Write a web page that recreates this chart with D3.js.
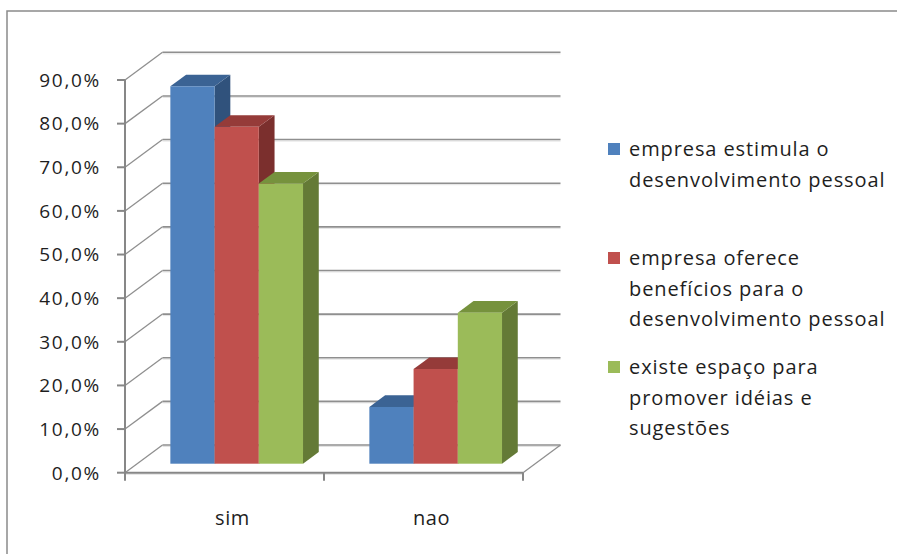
<!DOCTYPE html>
<html>
<head>
<meta charset="utf-8">
<script src="https://cdn.jsdelivr.net/npm/d3@7"></script>
<style>
  body { margin: 0; background: #fff; }
  svg text { font-family: "Open Sans", sans-serif; fill: #1e1e1e; }
</style>
</head>
<body>
<div id="chart"></div>
<script>
// chart data
var categories = ["sim", "nao"]
var seriesNames = [
    ["empresa estimula o", "desenvolvimento pessoal"],
    ["empresa oferece", "benefícios para o", "desenvolvimento pessoal"],
    ["existe espaço para", "promover idéias e", "sugestões"]
]
var estimula = [0.865, 0.130]
var oferece = [0.772, 0.217]
var espaco = [0.642, 0.346]
var yTicks = [0, 0.1, 0.2, 0.3, 0.4, 0.5, 0.6, 0.7, 0.8, 0.9]
var yTickLabels = ["0,0%", "10,0%", "20,0%", "30,0%", "40,0%", "50,0%", "60,0%", "70,0%", "80,0%", "90,0%"]

var series = [estimula, oferece, espaco]
var colors = [
    {front: "#4f81bd", top: "#3b6394", side: "#30527c"},
    {front: "#c0504d", top: "#953b39", side: "#7b2f2d"},
    {front: "#9bbb59", top: "#76923d", side: "#647a36"}
]

var width = 897, height = 554
var svg = d3.select("#chart").append("svg").attr("width", width).attr("height", height)

// outer frame (only top and left edges show)
svg.append("rect").attr("x", 7).attr("y", 11).attr("width", 1000).attr("height", 1000)
    .style("fill", "none").style("stroke", "#8a8a8a").style("stroke-width", 1.5)

// 3d oblique depth
var DX = 37.5, DY = 27.7
var f0 = 0.325, f1 = 0.745
function proj(x, y, f) { return [x + f * DX, y - f * DY] }

var x = d3.scaleBand().domain(categories).range([125, 523]).padding(0)
var xs = d3.scaleBand().domain(d3.range(series.length)).range([0, x.bandwidth()]).paddingInner(0).paddingOuter(0.75)
var y = d3.scaleLinear().domain([0, 0.9]).range([472.7, 80])

var grid = svg.append("g")
var line = d3.line()
var gridColor = "#8f8f8f"

// back wall gridlines + side wall connectors
yTicks.forEach(function(t) {
    var a = proj(x.range()[0], y(t), 0), b = proj(x.range()[0], y(t), 1), c = proj(x.range()[1], y(t), 1)
    grid.append("path").attr("d", line([b, c])).style("stroke", "#e3e3e3").style("stroke-width", 1)
        .attr("transform", "translate(0,1.5)")
    grid.append("path").attr("d", line([b, c])).style("stroke", gridColor).style("stroke-width", 1.6).style("fill", "none")
    grid.append("path").attr("d", line([a, b])).style("stroke", gridColor).style("stroke-width", 1.3).style("fill", "none")
})
// floor edges
var fr0 = proj(x.range()[1], y(0), 0), fr1 = proj(x.range()[1], y(0), 1)
grid.append("path").attr("d", line([fr0, fr1])).style("stroke", gridColor).style("stroke-width", 1.3)
grid.append("path").attr("d", line([[x.range()[0], y(0) + 1.5], [x.range()[1], y(0) + 1.5]])).style("stroke", "#dcdcdc").style("stroke-width", 1)

// bars
categories.forEach(function(cat, ci) {
    series.forEach(function(vals, si) {
        var x0 = x(cat) + xs(si), x1 = x0 + xs.bandwidth()
        var yv = y(vals[ci]), yb = y(0)
        var g = svg.append("g")
        var fa = proj(x0, yv, f0), fb = proj(x1, yb, f0)
        g.append("path")
            .attr("d", line([proj(x1, yv, f0), proj(x1, yv, f1), proj(x1, yb, f1), proj(x1, yb, f0)]) + "Z")
            .style("fill", colors[si].side)
        g.append("path")
            .attr("d", line([proj(x0, yv, f0), proj(x1, yv, f0), proj(x1, yv, f1), proj(x0, yv, f1)]) + "Z")
            .style("fill", colors[si].top)
        g.append("rect").attr("x", fa[0]).attr("y", fa[1])
            .attr("width", fb[0] - fa[0]).attr("height", fb[1] - fa[1])
            .style("fill", colors[si].front)
    })
})

// front axes
var axisColor = "#878787"
svg.append("path").attr("d", line([[x.range()[0], y(0.9)], [x.range()[0], y(0)]]))
    .style("stroke", axisColor).style("stroke-width", 2)
svg.append("path").attr("d", line([[x.range()[0], y(0)], [x.range()[1], y(0)]]))
    .style("stroke", axisColor).style("stroke-width", 2)
yTicks.forEach(function(t, i) {
    svg.append("path").attr("d", line([[117, y(t)], [x.range()[0], y(t)]]))
        .style("stroke", axisColor).style("stroke-width", 2)
    svg.append("text").attr("x", 101).attr("y", y(t)).attr("dy", "0.36em")
        .attr("text-anchor", "end").style("font-size", "19px").style("letter-spacing", "1.7px")
        .text(yTickLabels[i])
})
x.domain().concat([null]).forEach(function(c, i) {
    var xx = x.range()[0] + i * x.bandwidth()
    svg.append("path").attr("d", line([[xx, y(0)], [xx, y(0) + 8]]))
        .style("stroke", axisColor).style("stroke-width", 2)
})
categories.forEach(function(cat) {
    svg.append("text").attr("x", x(cat) + x.bandwidth() / 2 + 8).attr("y", 525)
        .attr("text-anchor", "middle").style("font-size", "20px").style("letter-spacing", "0.6px")
        .text(cat)
})

// legend
var legendTop = [156, 265, 374]
var lineH = 30.5
seriesNames.forEach(function(lines, si) {
    svg.append("rect").attr("x", 608).attr("y", legendTop[si] - 13).attr("width", 12).attr("height", 12)
        .style("fill", colors[si].front)
    lines.forEach(function(l, li) {
        svg.append("text").attr("x", 629).attr("y", legendTop[si] + li * lineH)
            .style("font-size", "20px").style("letter-spacing", "0.9px")
            .text(l)
    })
})
</script>
</body>
</html>
